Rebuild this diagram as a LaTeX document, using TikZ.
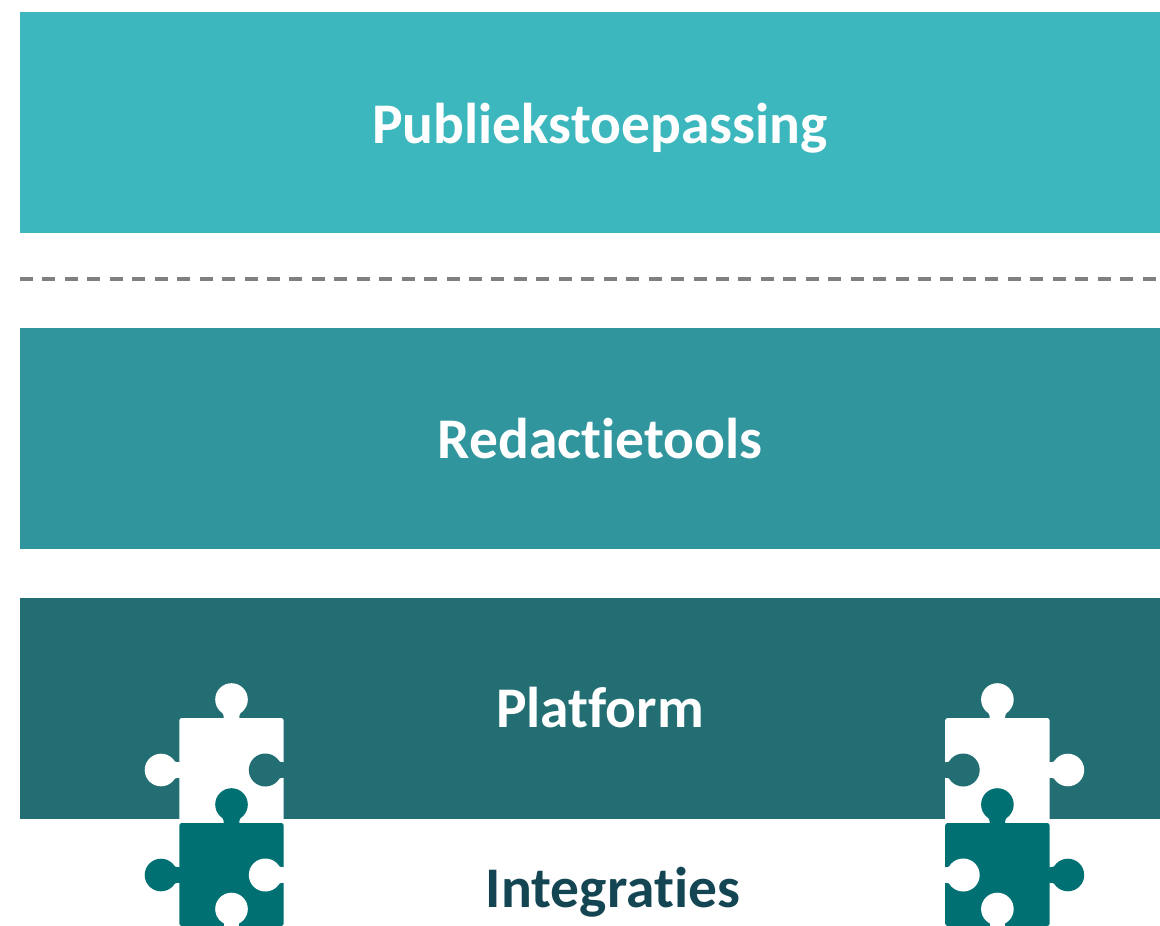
\documentclass[tikz,border=0pt]{standalone}
\usepackage{fontspec}
\setmainfont[Ligatures=NoCommon]{Carlito}
\definecolor{bandA}{HTML}{3CB7BD}
\definecolor{bandB}{HTML}{31959E}
\definecolor{bandC}{HTML}{226E72}
\definecolor{piece}{HTML}{007073}
\definecolor{inktext}{HTML}{144552}
\definecolor{dashgrey}{HTML}{808080}
\tikzset{
  band/.style={fill=#1,draw=none,inner sep=0pt,outer sep=0pt,minimum width=1140pt,minimum height=221pt},
  whitetitle/.style={text=white,font=\fontsize{57.5}{57.5}\selectfont\bfseries,anchor=base,inner sep=0pt},
  darktitle/.style={text=inktext,font=\fontsize{57.5}{57.5}\selectfont\bfseries,anchor=base,inner sep=0pt},
  divider/.style={draw=dashgrey,line width=3.2pt,dash pattern=on 13pt off 9.45pt}
}
% #1 left x of body, #2 top y, #3 bottom y, #4 body colour, #5 colour of holes
% #6 = -1: knob at left, hole at right; +1: hole at left, knob at right
\newcommand{\jigsaw}[6]{%
  \pgfmathsetmacro{\cxm}{#1+52.2}
  \pgfmathsetmacro{\midy}{#2+52}
  \pgfmathsetmacro{\knobx}{#6<0 ? #1-18.3 : #1+104.4+18.3}
  \pgfmathsetmacro{\holex}{#6<0 ? #1+86 : #1+18}
  \pgfmathsetmacro{\knobe}{#6<0 ? #1 : #1+104.4}
  \pgfmathsetmacro{\holee}{#6<0 ? #1+104.4 : #1}
  \pgfmathsetmacro{\knobs}{#6<0 ? 1 : -1}
  \fill[#4,rounded corners=2.5pt] (#1,#2) rectangle ++(104.4,#3-#2);
  \fill[#4] (\cxm,#2-18.5) circle[radius=16.3pt];
  \fill[#4] (\cxm-12,#2-8) .. controls (\cxm-8,#2-5) and (\cxm-7.7,#2-3) .. (\cxm-7.7,#2+1)
     -- (\cxm+7.7,#2+1) .. controls (\cxm+7.7,#2-3) and (\cxm+8,#2-5) .. (\cxm+12,#2-8) -- cycle;
  \fill[#4] (\knobx,\midy) circle[radius=16.3pt];
  \fill[#4] (\knobe-\knobs*9,\midy-12) .. controls (\knobe-\knobs*5,\midy-8) and (\knobe-\knobs*3,\midy-7.7) .. (\knobe+\knobs*1,\midy-7.7)
     -- (\knobe+\knobs*1,\midy+7.7) .. controls (\knobe-\knobs*3,\midy+7.7) and (\knobe-\knobs*5,\midy+8) .. (\knobe-\knobs*9,\midy+12) -- cycle;
  \fill[#5] (\holex,\midy) circle[radius=16.5pt];
  \fill[#5] (\holee-\knobs*9,\midy-12) .. controls (\holee-\knobs*5,\midy-8) and (\holee-\knobs*3,\midy-7.7) .. (\holee+\knobs*1,\midy-7.7)
     -- (\holee+\knobs*1,\midy+7.7) .. controls (\holee-\knobs*3,\midy+7.7) and (\holee-\knobs*5,\midy+8) .. (\holee-\knobs*9,\midy+12) -- cycle;
}
\begin{document}
\begin{tikzpicture}[x=1pt,y=-1pt]
\useasboundingbox (0,0) rectangle (1160,926);
\clip (0,0) rectangle (1160,926);
\node[band=bandA] (appband) at (590,122.5) {};
\node[band=bandB] (toolband) at (590,438.5) {};
\node[band=bandC] (platband) at (590,708.5) {};
\coordinate (divA) at (20,279);
\coordinate (divB) at (1156,279);
\draw[divider] (divA) -- (divB);
% puzzle pieces
\jigsaw{179.3}{718}{823}{white}{bandC}{-1}
\jigsaw{945.2}{718}{823}{white}{bandC}{1}
\jigsaw{179.3}{823}{926}{piece}{white}{-1}
\jigsaw{945.2}{823}{926}{piece}{white}{1}
% lower notches
\foreach \cx in {231.5,997.4}{
  \fill[white] (\cx,909) circle[radius=16.3pt];
  \fill[white] (\cx-7.7,915) rectangle (\cx+7.7,930);
}
\node[whitetitle] (t1) at (600,143) {Publiekstoepassing};
\node[whitetitle] (t2) at (600,458) {Redactietools};
\node[whitetitle] (t3) at (600,727) {Platform};
\node[darktitle] (t4) at (613,907) {Integraties};
\end{tikzpicture}
\end{document}
